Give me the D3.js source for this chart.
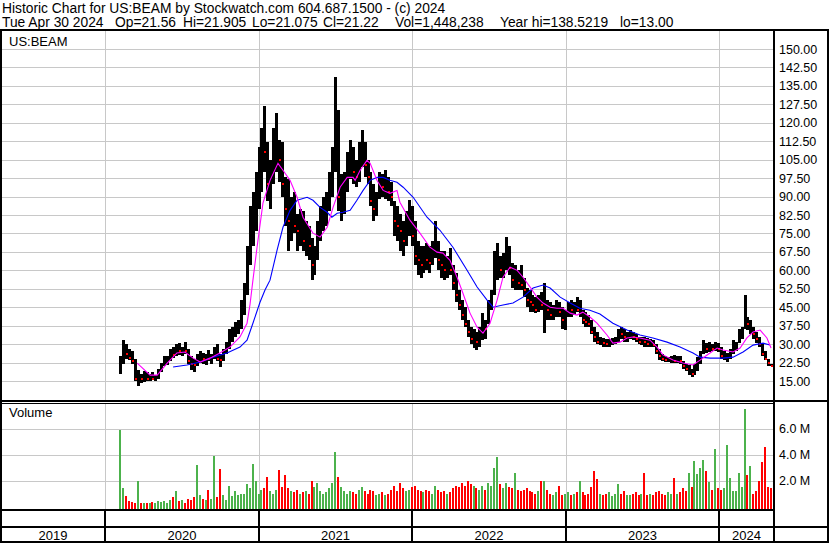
<!DOCTYPE html>
<html>
<head>
<meta charset="utf-8">
<script src="https://cdn.jsdelivr.net/npm/d3@7"></script>
<style>
  body { margin: 0; background: #fff; }
  svg { display: block; font-family: "Liberation Sans", Arial, sans-serif; }
</style>
</head>
<body>
<svg id="chart" width="830" height="543"></svg>
<script>
// weekly bars, first one is the week ending Fri 7 Feb 2020
const firstWeek = new Date(2020, 1, 7);

const hi = [
  25, 31.6, 30, 28, 27, 24, 19.5, 18, 19, 18.5,
  18, 18.5, 17.5, 20, 22.5, 25, 25, 28, 29, 30,
  30.5, 29, 31, 28, 25, 24, 26, 27, 26.5, 26,
  27.5, 26, 29, 30, 26, 28, 31, 36, 37, 39,
  40, 48, 55, 70, 86, 92, 100, 110, 118, 127,
  112, 105, 118, 124, 113, 112, 98, 97, 90, 92,
  83, 85, 84, 80, 78, 73, 70, 80, 86, 90,
  92, 100, 110, 138.5, 125, 99, 100, 108, 113, 110,
  105, 112, 117, 112, 105, 100, 95, 92, 100, 99,
  101, 98, 96, 88, 86, 83, 80, 84, 88.5, 86,
  80, 72, 70, 70, 71, 70, 72, 80, 72, 68,
  68, 66, 69, 62, 59, 52, 48, 45, 40, 37,
  36, 35, 37, 42.6, 40, 48, 52, 68, 71, 66,
  67, 73.5, 70, 63, 62, 60, 62, 57, 53, 52,
  50, 49, 50, 51, 54.8, 48, 47, 46, 48, 47,
  45, 44, 47, 48, 47, 49, 48, 44, 43, 42,
  40, 37, 35, 33, 32.5, 32, 32, 32.5, 33, 36,
  37, 36, 35, 35.7, 35, 34, 33, 33, 32.9, 32.5,
  32, 31.5, 30, 28, 26, 25, 24.7, 25, 25.6, 25,
  25, 23, 22, 21.5, 20, 22, 24.7, 27, 31.6, 30.5,
  30.8, 30, 30.8, 30.5, 28.8, 27, 26.5, 28, 31.6, 31,
  36, 37, 49.9, 41, 40, 37, 35, 33, 30.4, 27,
  24, 21.905
];

const lo = [
  18, 22, 24, 23.5, 22, 15, 13, 14, 14.5, 15,
  15, 15.5, 14.8, 16, 18.5, 21, 21.5, 23, 24.5, 25,
  25.5, 25, 26, 22, 19.5, 18.5, 21, 22.5, 22, 21.5,
  23, 22, 24, 23, 20.5, 23, 26, 28, 31, 33,
  34, 36, 42, 50, 62, 70, 76, 85, 92, 100,
  88, 85, 95, 100, 96, 90, 78, 68, 72, 75,
  68, 70, 68, 66, 64, 56, 58, 64, 72, 76,
  78, 84, 90, 100, 84, 80, 83, 92, 97, 95,
  94, 96, 102, 98, 95, 86, 80, 82, 89, 90,
  89, 88, 86, 74, 72, 68, 66, 70, 74, 70,
  62, 58, 57, 59, 60, 59, 62, 65, 60, 57,
  56, 57, 58, 52, 47, 44, 40, 37, 33, 30,
  28.5, 27.6, 29, 31.6, 32, 38, 44, 50, 56, 57,
  57, 60, 58, 53, 52, 52, 52, 49, 45, 43,
  43, 42.6, 43, 44, 34.5, 40, 40, 39.8, 41, 41,
  36, 35.7, 41, 41, 42, 43, 41, 38, 37, 37,
  34, 31, 30, 29.5, 28.8, 29, 29, 29.5, 30, 31,
  32, 31, 31, 32, 31.6, 31, 30, 29.5, 29, 29,
  28.8, 28.8, 26, 23.5, 23, 22.7, 22.7, 22.5, 22.3, 22.3,
  22, 20, 19, 17.5, 16.6, 17.5, 19, 22, 26, 26.4,
  26.8, 27, 27, 26.8, 24, 23.5, 22.7, 24, 26, 27,
  30.4, 32, 36, 35.7, 34, 32, 30.4, 29, 25, 23.5,
  21, 21.075
];

const cl = [
  22, 28, 26, 24.5, 23, 16, 17, 16, 17, 16,
  16.5, 16, 16.5, 19.5, 22, 24, 24, 27, 25.5, 28,
  27, 28.5, 27, 23, 22, 21.5, 24, 25, 24, 25,
  24, 25.5, 27, 24, 23.5, 27, 30, 34, 35, 37,
  38, 44, 52, 65, 75, 80, 95, 100, 112, 108,
  95, 100, 110, 112, 105, 95, 85, 80, 85, 78,
  76, 80, 72, 74, 70, 62, 66, 76, 80, 84,
  88, 95, 105, 120, 90, 92, 95, 100, 108, 100,
  98, 108, 110, 103, 98, 88, 85, 90, 96, 94,
  97, 92, 90, 80, 78, 76, 72, 80, 84, 74,
  66, 64, 62, 65, 64, 63, 68, 70, 64, 62,
  60, 62, 60, 55, 50, 46, 42, 38, 35, 32,
  33, 31, 35, 38, 36, 46, 50, 62, 64, 60,
  63, 66, 61, 56, 57, 55, 54, 52, 48, 47,
  46, 44, 47, 46, 47, 44, 42, 43, 45, 43,
  40, 42, 45, 44, 45, 44, 46, 40, 39, 38,
  35, 33, 31, 31, 30.5, 30, 31, 31, 32, 35,
  34, 33, 33, 34, 33, 32, 31, 32, 31, 30,
  30, 29.5, 27, 25, 24, 23.5, 23.5, 24, 23, 24,
  23, 21, 20, 20.5, 18, 21, 23, 26, 29, 28,
  29, 28, 29, 28, 25, 25, 25.5, 27, 30, 30,
  35, 36, 42, 38, 39, 34, 32, 30, 26, 24,
  22.5, 21.22
];

// weekly volume, millions
const vol = [
  5.9, 1.4, 0.8, 0.4, 0.35, 0.3, 1.95, 0.3, 0.3, 0.25,
  0.3, 0.35, 0.3, 0.4, 0.35, 0.4, 0.3, 0.5, 0.7, 1.2,
  0.4, 0.5, 0.3, 0.6, 0.5, 0.75, 3.2, 0.9, 0.6, 0.5,
  1.3, 0.6, 3.9, 0.7, 2.9, 0.9, 0.5, 1.6, 0.8, 1.2,
  0.9, 1.0, 1.0, 1.7, 1.4, 3.3, 2.0, 1.0, 1.3, 1.4,
  2.3, 1.2, 1.0, 1.3, 2.8, 1.5, 2.4, 1.4, 1.2, 1.1,
  1.3, 1.0, 1.1, 1.2, 1.0, 2.0, 1.5, 1.8, 1.2, 1.0,
  1.1, 1.4, 1.8, 4.2, 2.3, 1.5, 1.2, 1.0, 1.2, 1.1,
  1.0, 1.3, 1.5, 1.2, 1.0, 1.3, 1.2, 0.9, 1.0, 1.1,
  0.9, 1.0, 1.3, 1.6, 1.2, 1.8, 1.4, 1.2, 1.3, 1.5,
  1.6, 1.3, 1.2, 1.1, 1.3, 1.2, 1.0, 1.6, 1.3, 1.1,
  1.2, 1.0, 1.1, 1.4, 1.6, 1.5, 1.8, 1.6, 2.0, 1.7,
  1.6, 1.4, 1.3, 1.6, 1.3, 1.8, 1.6, 3.0, 3.8, 1.7,
  1.4, 1.8, 1.5, 1.4, 2.6, 1.3, 1.2, 1.3, 1.4, 1.2,
  1.1, 1.0, 1.2, 2.0, 2.0, 1.3, 1.0, 0.9, 1.1, 1.6,
  0.9, 1.0, 1.1, 0.9, 1.0, 1.1, 2.0, 1.1, 0.9, 1.0,
  1.5, 2.7, 2.1, 1.0, 0.9, 1.0, 1.1, 0.8, 1.0, 1.7,
  1.0, 1.2, 0.9, 0.9, 1.0, 1.1, 0.9, 1.0, 2.6, 0.9,
  1.0, 0.9, 1.1, 1.2, 1.0, 0.9, 1.1, 1.0, 2.2, 1.0,
  1.1, 1.4, 1.2, 2.6, 1.5, 3.5, 2.5, 3.0, 3.6, 2.7,
  1.9, 1.3, 4.4, 1.4, 1.3, 1.4, 4.7, 2.2, 1.2, 1.2,
  2.6, 1.5, 7.5, 2.4, 3.1, 1.0, 1.2, 2.0, 3.4, 4.6,
  1.5, 1.45
];

// moving averages: [week number, price]
const maFast = [
  [5.8,22.3],[10.2,17.4],[12.6,17.4],[16,22.3],[19.3,26.4],[22,26.8],[24.8,24.3],[27.2,22.7],
  [30.5,24.3],[33.9,26.4],[37.3,28.8],[40.7,32.9],[43.1,38.5],[44.1,46],[45.1,56],[46.5,69.4],
  [48.5,87.3],[50.9,96.6],[53.6,103.5],[55.3,100.7],[57.7,96.6],[60.1,89.7],[62.1,81.6],[65.5,75.1],
  [67.9,73.5],[70.3,77.5],[72.3,85.6],[74.7,93.8],[77.1,97.8],[79.1,97.8],[79.8,96.6],[81.5,100.7],
  [83.8,104.7],[84.9,103.5],[87.2,96.6],[89.3,92.5],[91.6,91.3],[94,92.5],[95,87.7],[98.4,80.4],
  [101.8,75.1],[105.2,69.4],[107.6,67.4],[109.6,67],[112,64.1],[114.4,57.2],[116.4,50.7],[118.8,42.6],
  [121.2,36.9],[123.2,34.5],[125.6,38.5],[128,47.9],[130,57.2],[132.4,61.3],[134.8,60],[136.8,57.2],
  [139.2,53.2],[141.5,49.1],[143.6,46.7],[146,45],[148.3,44.6],[150.4,44.6],[152.8,42.6],[155.1,41.8],
  [157.1,43],[159.5,41],[161.9,38.5],[165.3,33.7],[167.3,30.4],[169.7,30.8],[172.1,32.5],[174.1,32.9],
  [176.5,32.5],[179.9,31.6],[182.3,28.8],[184.3,25.6],[187.7,23.5],[191.1,22.3],[194.5,21.5],[196.9,23.5],
  [199.3,25.6],[202.7,28.4],[204.7,27.6],[208.1,26.8],[210.5,28.4],[212.8,32.5],[214.9,34.9],[217.3,35.7],
  [219.6,32.5],[221,28.4]
];
const maSlow = [
  [18,20.7],[22.7,21.5],[27.2,22.7],[31.6,24.7],[36.3,26.4],[40.7,28.8],[43.1,31.6],[45.1,38.5],
  [47.5,47],[49.2,52],[50.9,56],[53.3,68.2],[55.3,77.5],[57.7,84.4],[60.1,88.5],[63.5,89.7],
  [65.5,88.5],[67.9,85.6],[70.3,83.6],[71.9,81.6],[73.7,83.2],[75.7,83.6],[78.1,84.4],[80.4,88.5],
  [82.5,92.5],[84.9,96.6],[87.2,97.8],[89.3,97.8],[91.6,96.6],[94,95.8],[96.1,93.8],[99.5,89.7],
  [104.2,81.6],[108.6,76.3],[113,69.4],[117.8,60],[121.2,53.2],[124.6,47.9],[126.6,45],[130,45.9],
  [133.4,46.7],[136.8,49.1],[140.2,52.8],[143.6,54],[146,52.8],[149.4,49.1],[152.8,46.7],[156.1,44.6],
  [159.5,43.8],[162.9,42.2],[167.3,38.5],[172.1,35.7],[176.5,33.7],[180.9,32.5],[185.7,30.8],[190.1,28.8],
  [194.5,26.4],[196.9,24.7],[200.3,24.3],[204.7,24.3],[208.1,24.7],[211.5,26.8],[214.9,29.6],[218.3,30.4],
  [220.6,29.6]
];

const priceTicks = [15, 22.5, 30, 37.5, 45, 52.5, 60, 67.5, 75, 82.5, 90, 97.5, 105, 112.5, 120, 127.5, 135, 142.5, 150];
const volTicks = [2, 4, 6];
const yearLabels = ["2019", "2020", "2021", "2022", "2023", "2024"];

const headerLine1 = "Historic Chart for US:BEAM by Stockwatch.com 604.687.1500 - (c) 2024";
const headerLine2 = ["Tue Apr 30 2024", "Op=21.56", "Hi=21.905", "Lo=21.075", "Cl=21.22", "Vol=1,448,238", "Year hi=138.5219", "lo=13.00"];
const headerLine2X = [2, 115, 183, 252, 323, 395, 500, 620];

const svg = d3.select("#chart");
const grid = "#c8c8c8";
const plotL = 2, plotR = 773;
const priceTop = 31, priceBot = 400;
const volTop = 404, volBot = 509;

const weekDate = w => new Date(firstWeek.getTime() + w * 7 * 864e5);

const x = d3.scaleTime()
  .domain([new Date(2019, 3, 30), new Date(2024, 4, 10)])
  .range([1, 774]);
const y = d3.scaleLinear().domain([15, 150]).range([381, 49]);
const yv = d3.scaleLinear().domain([0, 6]).range([506.5, 428.5]);

const bars = hi.map((h, i) => ({
  date: weekDate(i), hi: h, lo: lo[i], cl: cl[i], vol: vol[i],
  up: i === 0 || cl[i] >= cl[i - 1]
}));

svg.append("rect").attr("width", 830).attr("height", 543).attr("fill", "#fff");

// header
svg.append("text").attr("x", 2).attr("y", 12.5)
  .style("font-size", "13.8px").text(headerLine1);
svg.selectAll(".hdr2").data(headerLine2).enter().append("text")
  .attr("x", (d, i) => headerLine2X[i]).attr("y", 26.5)
  .style("font-size", "13.8px").text(d => d);

const years = d3.timeYear.range(new Date(2020, 0, 1), new Date(2025, 0, 1));
const yearX = years.map(d => Math.round(x(d)));

// grid lines
const g = svg.append("g").attr("shape-rendering", "crispEdges");
g.selectAll(".hgrid").data(priceTicks).enter().append("line")
  .attr("x1", plotL).attr("x2", plotR)
  .attr("y1", d => Math.round(y(d)) + 0.5).attr("y2", d => Math.round(y(d)) + 0.5)
  .attr("stroke", grid);
g.selectAll(".vgrid").data(volTicks).enter().append("line")
  .attr("x1", plotL).attr("x2", plotR)
  .attr("y1", d => Math.round(yv(d)) + 0.5).attr("y2", d => Math.round(yv(d)) + 0.5)
  .attr("stroke", grid);
yearX.filter(v => v < plotR).forEach(v => {
  g.append("line").attr("x1", v + 0.5).attr("x2", v + 0.5)
    .attr("y1", priceTop).attr("y2", priceBot).attr("stroke", grid);
  g.append("line").attr("x1", v + 0.5).attr("x2", v + 0.5)
    .attr("y1", volTop).attr("y2", volBot).attr("stroke", grid);
});

svg.append("clipPath").attr("id", "pclip").append("rect")
  .attr("x", plotL).attr("y", priceTop).attr("width", plotR - plotL).attr("height", priceBot - priceTop);

// price bars
const pg = svg.append("g").attr("clip-path", "url(#pclip)").attr("shape-rendering", "crispEdges");
pg.selectAll(".bar").data(bars).enter().append("rect")
  .attr("x", d => Math.round(x(d.date)) - 1)
  .attr("y", d => y(d.hi))
  .attr("width", 3)
  .attr("height", d => Math.max(1, y(d.lo) - y(d.hi)))
  .attr("fill", "#000");
pg.selectAll(".dot").data(bars.filter(d => !d.up)).enter().append("rect")
  .attr("x", d => Math.round(x(d.date)))
  .attr("y", d => Math.round(y(d.cl)) - 1)
  .attr("width", 2).attr("height", 2)
  .attr("fill", "#ff0000");

// moving averages
const line = d3.line().x(d => x(weekDate(d[0]))).y(d => y(d[1]));
pg.append("path").datum(maSlow).attr("d", line)
  .attr("fill", "none").attr("stroke", "#0000ff").attr("stroke-width", 1.1)
  .attr("shape-rendering", "auto");
pg.append("path").datum(maFast).attr("d", line)
  .attr("fill", "none").attr("stroke", "#ff00ff").attr("stroke-width", 1.1)
  .attr("shape-rendering", "auto");

// volume bars
svg.append("g").attr("shape-rendering", "crispEdges")
  .selectAll("rect").data(bars).enter().append("rect")
  .attr("x", d => Math.round(x(d.date)) - 1)
  .attr("y", d => yv(d.vol))
  .attr("width", 2)
  .attr("height", d => volBot - yv(d.vol))
  .attr("fill", d => d.up ? "#4cb24c" : "#ff0000");

// right axis labels
const pAxis = svg.append("g").attr("transform", "translate(775,0)")
  .call(d3.axisRight(y).tickValues(priceTicks).tickSize(0).tickPadding(4).tickFormat(d3.format(".2f")));
const vAxis = svg.append("g").attr("transform", "translate(775,0)")
  .call(d3.axisRight(yv).tickValues(volTicks).tickSize(0).tickPadding(4).tickFormat(d => d.toFixed(1) + " M"));
[pAxis, vAxis].forEach(a => {
  a.select(".domain").remove();
  a.selectAll("text").attr("fill", "#000").style("font-size", "12.5px")
    .style("font-family", '"Liberation Sans", Arial, sans-serif');
});

// panel labels
svg.append("text").attr("x", 9).attr("y", 46).style("font-size", "13px").text("US:BEAM");
svg.append("text").attr("x", 9).attr("y", 417).style("font-size", "13px").text("Volume");

// frame
const f = svg.append("g").attr("fill", "#000").attr("shape-rendering", "crispEdges");
f.append("rect").attr("x", 0).attr("y", 29).attr("width", 829).attr("height", 2);
f.append("rect").attr("x", 0).attr("y", 29).attr("width", 2).attr("height", 514);
f.append("rect").attr("x", 827).attr("y", 29).attr("width", 2).attr("height", 514);
f.append("rect").attr("x", 773).attr("y", 29).attr("width", 2).attr("height", 514);
f.append("rect").attr("x", 0).attr("y", 400).attr("width", 829).attr("height", 2);
f.append("rect").attr("x", 0).attr("y", 403).attr("width", 774).attr("height", 1);
f.append("rect").attr("x", 0).attr("y", 509).attr("width", 774).attr("height", 2);
f.append("rect").attr("x", 0).attr("y", 526).attr("width", 829).attr("height", 2);
f.append("rect").attr("x", 0).attr("y", 541).attr("width", 829).attr("height", 2);
yearX.filter(v => v < plotR).forEach(v => {
  f.append("rect").attr("x", v - 1).attr("y", 510).attr("width", 2).attr("height", 32);
});

// year labels centred in each year span
const bounds = [1].concat(yearX.filter(v => v < plotR)).concat([774]);
svg.selectAll(".yr").data(yearLabels).enter().append("text")
  .attr("x", (d, i) => (bounds[i] + bounds[i + 1]) / 2)
  .attr("y", 540)
  .attr("text-anchor", "middle")
  .style("font-size", "13px")
  .text(d => d);
</script>
</body>
</html>
